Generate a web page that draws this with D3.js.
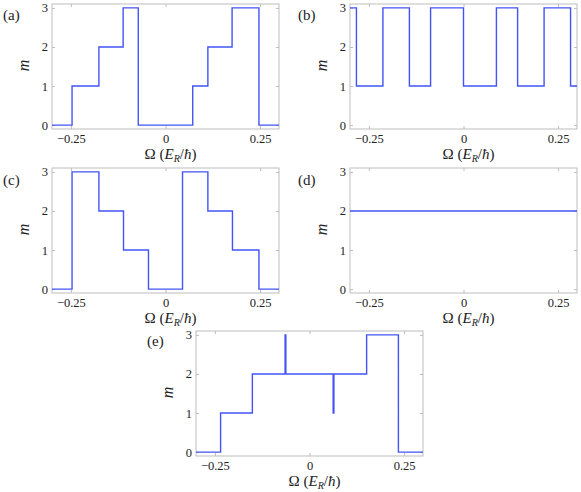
<!DOCTYPE html>
<html>
<head>
<meta charset="utf-8">
<script src="https://cdn.jsdelivr.net/npm/d3@7"></script>
<style>
  html, body { margin: 0; padding: 0; background: #fff; }
  svg { display: block; }
  text { font-family: "Liberation Serif", "Times New Roman", "DejaVu Serif", serif; fill: #222; }
</style>
</head>
<body>
<svg id="chart" width="581" height="492"></svg>
<script>
// ---- data ----
const xDomain = [-0.3, 0.3];
const yDomain = [-0.1, 3.1];
const xTicks = [-0.25, 0, 0.25];
const yTicks = [0, 1, 2, 3];
const panelLabels = ["(a)", "(b)", "(c)", "(d)", "(e)"];

// step positions (Omega) and the m level on each interval
const aBreaks = [-0.247, -0.176, -0.112, -0.072, 0.072, 0.112, 0.176, 0.247];
const aLevels = [0, 1, 2, 3, 0, 1, 2, 3, 0];

const bBreaks = [-0.283, -0.213, -0.143, -0.087, 0.0, 0.087, 0.143, 0.213, 0.283];
const bLevels = [3, 1, 3, 1, 3, 1, 3, 1, 3, 1];

const cBreaks = [-0.247, -0.176, -0.111, -0.045, 0.045, 0.112, 0.177, 0.247];
const cLevels = [0, 3, 2, 1, 0, 3, 2, 1, 0];

const dBreaks = [];
const dLevels = [2];

const eBreaks = [-0.235, -0.151, -0.0645, -0.0625, 0.0625, 0.0645, 0.151, 0.235];
const eLevels = [0, 1, 2, 3, 2, 1, 2, 3, 0];

// ---- layout ----
const boxW = 227, boxH = 125;
const panels = [
  { label: panelLabels[0], breaks: aBreaks, levels: aLevels, x: 52,  y: 4,   lx: 3,   ly: 20 },
  { label: panelLabels[1], breaks: bBreaks, levels: bLevels, x: 350, y: 4,   lx: 298, ly: 20 },
  { label: panelLabels[2], breaks: cBreaks, levels: cLevels, x: 52,  y: 168, lx: 3,   ly: 185 },
  { label: panelLabels[3], breaks: dBreaks, levels: dLevels, x: 350, y: 168, lx: 298, ly: 185 },
  { label: panelLabels[4], breaks: eBreaks, levels: eLevels, x: 196, y: 331, lx: 147, ly: 346 }
];

const svg = d3.select("#chart");
const lineColor = "#4254f6";
const boxColor = "#bdbdbd";

panels.forEach(p => {
  const x = d3.scaleLinear().domain(xDomain).range([0, boxW]);
  const y = d3.scaleLinear().domain(yDomain).range([boxH, 0]);
  const g = svg.append("g").attr("transform", `translate(${p.x},${p.y})`);

  // tick marks (inward) on all four sides
  const fmtX = d => d === 0 ? "0" : (d < 0 ? "\u2212" + Math.abs(d) : String(d));
  const bottom = g.append("g").attr("transform", `translate(0,${boxH})`)
    .call(d3.axisBottom(x).tickValues(xTicks).tickSize(-3).tickPadding(5).tickFormat(fmtX));
  const top = g.append("g")
    .call(d3.axisTop(x).tickValues(xTicks).tickSize(-3).tickFormat(""));
  const left = g.append("g")
    .call(d3.axisLeft(y).tickValues(yTicks).tickSize(-3).tickPadding(4).tickFormat(d3.format("d")));
  const right = g.append("g").attr("transform", `translate(${boxW},0)`)
    .call(d3.axisRight(y).tickValues(yTicks).tickSize(-3).tickFormat(""));
  [bottom, top, left, right].forEach(ax => {
    ax.select(".domain").remove();
    ax.attr("font-family", null);
    ax.selectAll(".tick line").attr("stroke", boxColor);
    ax.selectAll("text").attr("font-size", 12.5).attr("fill", "#222");
  });

  // box
  g.append("rect").attr("x", 0).attr("y", 0).attr("width", boxW).attr("height", boxH)
    .attr("fill", "none").attr("stroke", boxColor).attr("stroke-width", 1);

  // step line
  const pts = [{ o: xDomain[0], m: p.levels[0] }];
  p.breaks.forEach((b, i) => pts.push({ o: b, m: p.levels[i + 1] }));
  pts.push({ o: xDomain[1], m: p.levels[p.levels.length - 1] });
  const line = d3.line().x(d => x(d.o)).y(d => y(d.m)).curve(d3.curveStepAfter);
  g.append("path").datum(pts).attr("d", line)
    .attr("fill", "none").attr("stroke", lineColor).attr("stroke-width", 1.4);

  // y label
  g.append("text")
    .attr("transform", `translate(${-23},${boxH / 2 - 1}) rotate(-90)`)
    .attr("text-anchor", "middle").attr("font-size", 16).attr("font-style", "italic")
    .text("m");

  // x label: Ω (E_R/ħ)
  const xl = g.append("text")
    .attr("x", boxW / 2 + 5).attr("y", boxH + 30)
    .attr("text-anchor", "middle").attr("font-size", 15);
  xl.append("tspan").text("\u03A9 (");
  xl.append("tspan").attr("font-style", "italic").text("E");
  xl.append("tspan").attr("font-style", "italic").attr("font-size", 10).attr("dy", 3).text("R");
  xl.append("tspan").attr("dy", -3).text("/");
  xl.append("tspan").attr("font-style", "italic").text("\u0127");
  xl.append("tspan").text(")");

  // panel letter
  svg.append("text").attr("x", p.lx).attr("y", p.ly).attr("font-size", 15).text(p.label);
});
</script>
</body>
</html>
